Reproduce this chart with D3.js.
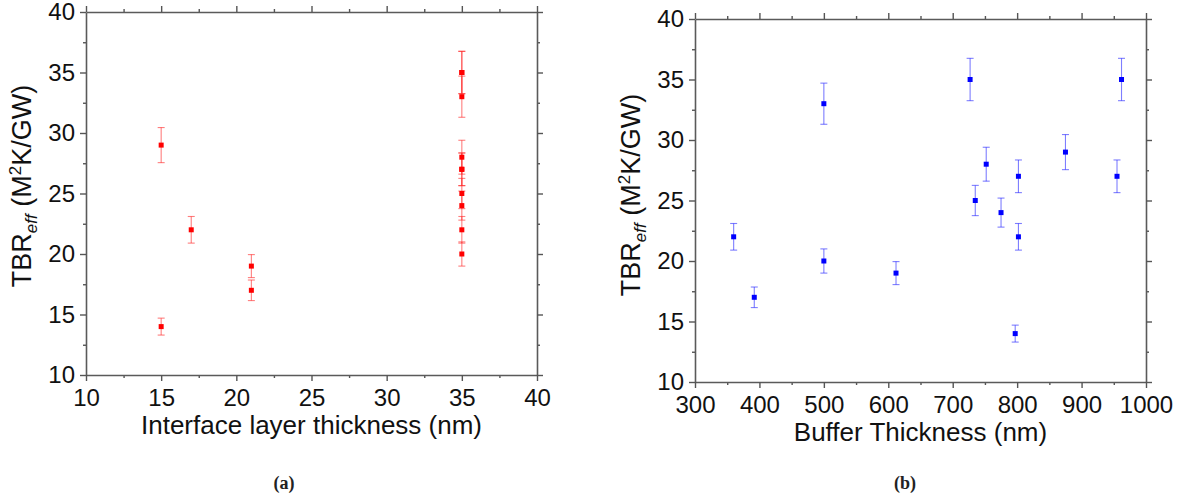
<!DOCTYPE html>
<html>
<head>
<meta charset="utf-8">
<script src="https://cdn.jsdelivr.net/npm/d3@7"></script>
<style>
  body { margin: 0; background: #fff; }
  svg { display: block; }
  .tick text { font-family: "Liberation Sans", Arial, sans-serif; fill: #111; }
</style>
</head>
<body>
<script>
// TBR values, shared by both panels (same samples, two x quantities)
let tbr      = [22, 17, 33, 20, 19, 35, 25, 28, 24, 14, 27, 22, 29, 27, 35];
let tbrErr   = [1.1, 0.85, 1.7, 1.0, 0.95, 1.75, 1.25, 1.4, 1.2, 0.7, 1.35, 1.1, 1.45, 1.35, 1.75];
let interfaceNm = [17, 21, 35, 35, 21, 35, 35, 35, 35, 15, 35, 35, 15, 35, 35];
let bufferNm    = [360, 392, 500, 500, 612, 727, 735, 752, 775, 797, 802, 802, 875, 955, 962];

let yTicks = [10, 15, 20, 25, 30, 35, 40];
let xTicksA = [10, 15, 20, 25, 30, 35, 40];
let xTicksB = [300, 400, 500, 600, 700, 800, 900, 1000];

let width = 1179;
let height = 496;

let svg = d3.select("body").append("svg")
    .attr("width", width)
    .attr("height", height);

//Une fonction pour dessiner un panneau
function panneau(cfg) {
    let x = d3.scaleLinear().domain(cfg.xDomain).range([cfg.left, cfg.right]);
    let y = d3.scaleLinear().domain([10, 40]).range([cfg.bottom, cfg.top]);

    let g = svg.append("g");

    // minor ticks
    let xMinor = d3.range(cfg.xDomain[0], cfg.xDomain[1] + 1e-9, cfg.xMinorStep)
        .filter(v => cfg.xTicks.indexOf(v) < 0);
    let yMinor = d3.range(10, 40.001, 2.5).filter(v => yTicks.indexOf(v) < 0);

    let axes = [
        [() => d3.axisBottom(x), "translate(0," + cfg.bottom + ")", true, xMinor, cfg.xTicks],
        [() => d3.axisTop(x), "translate(0," + cfg.top + ")", false, xMinor, cfg.xTicks],
        [() => d3.axisLeft(y), "translate(" + cfg.left + ",0)", true, yMinor, yTicks],
        [() => d3.axisRight(y), "translate(" + cfg.right + ",0)", false, yMinor, yTicks]
    ];

    axes.forEach(function(a, i) {
        let isX = i < 2;
        let gm = g.append("g").attr("transform", a[1])
            .call(a[0]().tickValues(a[3]).tickSize(3).tickSizeOuter(0).tickFormat(""));
        gm.select(".domain").remove();
        gm.selectAll("line").attr("stroke", "#555").attr("stroke-width", 1.4);

        let ga = g.append("g").attr("transform", a[1])
            .call(a[0]().tickValues(a[4]).tickSize(6).tickSizeOuter(0)
                .tickPadding(isX ? 8 : 5)
                .tickFormat(a[2] ? d3.format("d") : ""));
        ga.select(".domain").attr("stroke", "#5a5a5a").attr("stroke-width", 1.6);
        ga.selectAll("line").attr("stroke", "#555").attr("stroke-width", 1.4);
        ga.selectAll("text").style("font-size", "24px");
    });

    // error bars
    let pts = cfg.xs.map((v, i) => ({ x: v, y: tbr[i], e: tbrErr[i] }));
    let eb = g.append("g")
        .attr("stroke", cfg.errColor)
        .attr("stroke-width", 1.1)
        .attr("fill", "none");
    pts.forEach(function(d) {
        let px = x(d.x);
        eb.append("line").attr("x1", px).attr("x2", px)
            .attr("y1", y(d.y - d.e)).attr("y2", y(d.y + d.e));
        [d.y - d.e, d.y + d.e].forEach(function(v) {
            eb.append("line").attr("x1", px - 3.5).attr("x2", px + 3.5)
                .attr("y1", y(v)).attr("y2", y(v));
        });
    });

    g.append("g").selectAll("rect")
        .data(pts)
        .enter()
        .append("rect")
        .attr("x", d => x(d.x) - 2.5)
        .attr("y", d => y(d.y) - 2.5)
        .attr("width", 5)
        .attr("height", 5)
        .attr("fill", cfg.color);

    // axis titles
    g.append("text")
        .attr("x", (cfg.left + cfg.right) / 2)
        .attr("y", cfg.bottom + 59)
        .attr("text-anchor", "middle")
        .style("font-family", "Liberation Sans, Arial, sans-serif")
        .style("font-size", "26px")
        .style("fill", "#111")
        .text(cfg.xTitle);

    let yt = g.append("text")
        .attr("transform", "translate(" + (cfg.left - 55) + "," + cfg.yTitleMid + ") rotate(-90)")
        .attr("text-anchor", "middle")
        .style("font-family", "Liberation Sans, Arial, sans-serif")
        .style("font-size", "27px")
        .style("fill", "#111");
    yt.append("tspan").text("TBR");
    yt.append("tspan").attr("dy", 6).style("font-size", "17px").style("font-style", "italic").text("eff");
    yt.append("tspan").attr("dy", -6).text(" (M");
    yt.append("tspan").attr("dy", -10).style("font-size", "17px").text("2");
    yt.append("tspan").attr("dy", 10).text("K/GW)");

    svg.append("text")
        .attr("x", cfg.capX)
        .attr("y", 489)
        .attr("text-anchor", "middle")
        .style("font-family", "Liberation Serif, serif")
        .style("font-size", "18px")
        .style("font-weight", "bold")
        .style("fill", "#222")
        .text(cfg.caption);
}

panneau({
    xDomain: [10, 40], xTicks: xTicksA, xMinorStep: 2.5,
    left: 86, right: 537, top: 12, bottom: 375,
    xs: interfaceNm, color: "#ff0000", errColor: "rgba(255,40,40,0.6)",
    xTitle: "Interface layer thickness (nm)", yTitleMid: 186,
    capX: 284, caption: "(a)"
});

panneau({
    xDomain: [300, 1000], xTicks: xTicksB, xMinorStep: 50,
    left: 695, right: 1146, top: 19, bottom: 382,
    xs: bufferNm, color: "#0000ff", errColor: "rgba(40,40,255,0.6)",
    xTitle: "Buffer Thickness (nm)", yTitleMid: 195,
    capX: 905, caption: "(b)"
});
</script>
</body>
</html>
